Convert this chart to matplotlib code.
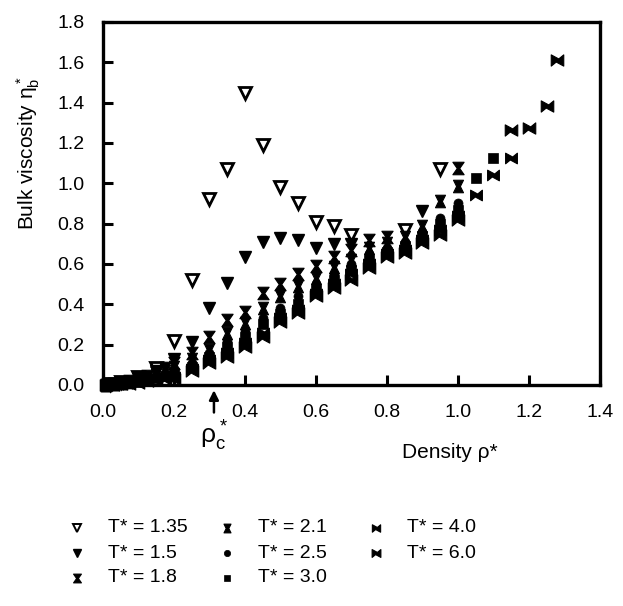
import matplotlib
matplotlib.use("Agg")
import matplotlib.pyplot as plt
from matplotlib.path import Path

plt.rcParams['font.family'] = ['Liberation Sans', 'DejaVu Sans']
plt.rcParams['mathtext.fontset'] = 'custom'
plt.rcParams['mathtext.rm'] = 'Liberation Sans'
plt.rcParams['mathtext.it'] = 'Liberation Sans'

# data: density rho* and bulk viscosity eta_b* per temperature
rho_135 = [0.02, 0.05, 0.1, 0.15, 0.2, 0.25, 0.3, 0.35, 0.4, 0.45, 0.5, 0.55, 0.6, 0.65, 0.7, 0.85, 0.95]
eta_135 = [0.004, 0.015, 0.04, 0.085, 0.22, 0.52, 0.92, 1.07, 1.45, 1.19, 0.98, 0.90, 0.81, 0.79, 0.745, 0.77, 1.07]

rho_15 = [0.02, 0.05, 0.1, 0.15, 0.2, 0.25, 0.3, 0.35, 0.4, 0.45, 0.5, 0.55, 0.6, 0.65, 0.7, 0.9]
eta_15 = [0.004, 0.012, 0.035, 0.07, 0.13, 0.215, 0.38, 0.505, 0.634, 0.711, 0.731, 0.72, 0.678, 0.70, 0.70, 0.864]

rho_18 = [0.01, 0.03, 0.05, 0.075, 0.1, 0.125, 0.15, 0.175, 0.2, 0.25, 0.3, 0.35, 0.4, 0.45, 0.5, 0.55, 0.6, 0.65, 0.7, 0.75, 0.8, 1.0]
eta_18 = [0.002, 0.005, 0.01, 0.018, 0.03, 0.045, 0.06, 0.085, 0.11, 0.16, 0.24, 0.32, 0.364, 0.456, 0.50, 0.55, 0.59, 0.635, 0.67, 0.72, 0.733, 1.075]

rho_21 = [0.01, 0.03, 0.05, 0.075, 0.1, 0.125, 0.15, 0.175, 0.2, 0.25, 0.3, 0.35, 0.4, 0.45, 0.5, 0.55, 0.6, 0.65, 0.7, 0.75, 0.8, 0.85, 0.9, 0.95, 1.0]
eta_21 = [0.002, 0.004, 0.01, 0.016, 0.025, 0.037, 0.05, 0.07, 0.09, 0.13, 0.174, 0.258, 0.307, 0.38, 0.44, 0.49, 0.53, 0.585, 0.62, 0.68, 0.705, 0.736, 0.786, 0.91, 0.985]

rho_25 = [0.01, 0.03, 0.05, 0.075, 0.1, 0.125, 0.15, 0.175, 0.2, 0.25, 0.3, 0.35, 0.4, 0.45, 0.5, 0.55, 0.6, 0.65, 0.7, 0.75, 0.8, 0.85, 0.9, 0.95, 1.0]
eta_25 = [0.001, 0.004, 0.008, 0.013, 0.02, 0.03, 0.04, 0.055, 0.07, 0.11, 0.16, 0.22, 0.27, 0.33, 0.38, 0.44, 0.50, 0.55, 0.60, 0.65, 0.68, 0.71, 0.76, 0.83, 0.90]

rho_30 = [0.01, 0.03, 0.05, 0.075, 0.1, 0.125, 0.15, 0.175, 0.2, 0.25, 0.3, 0.35, 0.4, 0.45, 0.5, 0.55, 0.6, 0.65, 0.7, 0.75, 0.8, 0.85, 0.9, 0.95, 1.0, 1.05, 1.1]
eta_30 = [0.001, 0.003, 0.006, 0.011, 0.017, 0.026, 0.035, 0.047, 0.06, 0.09, 0.14, 0.19, 0.24, 0.30, 0.35, 0.40, 0.47, 0.52, 0.57, 0.62, 0.66, 0.69, 0.74, 0.80, 0.87, 1.027, 1.127]

rho_40 = [0.01, 0.03, 0.05, 0.075, 0.1, 0.125, 0.15, 0.175, 0.2, 0.25, 0.3, 0.35, 0.4, 0.45, 0.5, 0.55, 0.6, 0.65, 0.7, 0.75, 0.8, 0.85, 0.9, 0.95, 1.0, 1.05, 1.1, 1.15]
eta_40 = [0.001, 0.002, 0.005, 0.009, 0.015, 0.022, 0.03, 0.035, 0.04, 0.08, 0.125, 0.16, 0.21, 0.26, 0.33, 0.37, 0.45, 0.50, 0.55, 0.60, 0.65, 0.67, 0.72, 0.77, 0.84, 0.943, 1.042, 1.127]

rho_60 = [0.01, 0.03, 0.05, 0.075, 0.1, 0.125, 0.15, 0.175, 0.2, 0.25, 0.3, 0.35, 0.4, 0.45, 0.5, 0.55, 0.6, 0.65, 0.7, 0.75, 0.8, 0.85, 0.9, 0.95, 1.0, 1.15, 1.2, 1.25, 1.28]
eta_60 = [0.0, 0.002, 0.004, 0.007, 0.012, 0.018, 0.025, 0.028, 0.03, 0.07, 0.11, 0.14, 0.19, 0.24, 0.31, 0.357, 0.44, 0.48, 0.52, 0.58, 0.637, 0.655, 0.705, 0.744, 0.82, 1.265, 1.275, 1.385, 1.61]

labels = ["T* = 1.35", "T* = 1.5", "T* = 1.8", "T* = 2.1", "T* = 2.5", "T* = 3.0", "T* = 4.0", "T* = 6.0"]
rho_c = 0.313

# custom marker shapes
hourglass = Path([(-0.9, 1), (0.9, 1), (0.2, 0), (0.9, -1), (-0.9, -1), (-0.2, 0), (-0.9, 1)],
                 [Path.MOVETO] + [Path.LINETO] * 5 + [Path.CLOSEPOLY])
hourglass2 = Path([(-0.8, 1), (0.8, 1), (0.3, 0), (0.8, -1), (-0.8, -1), (-0.3, 0), (-0.8, 1)],
                  [Path.MOVETO] + [Path.LINETO] * 5 + [Path.CLOSEPOLY])
bowtie = Path([(1, -0.9), (1, 0.9), (0.2, 0.25), (-1, 0.9), (-1, -0.9), (-0.2, -0.25), (1, -0.9)],
              [Path.MOVETO] + [Path.LINETO] * 5 + [Path.CLOSEPOLY])

series = [(rho_135, eta_135), (rho_15, eta_15), (rho_18, eta_18), (rho_21, eta_21),
          (rho_25, eta_25), (rho_30, eta_30), (rho_40, eta_40), (rho_60, eta_60)]
styles = [dict(marker='v', mfc='white', ms=8, mew=2.0),
          dict(marker='v', mfc='black', ms=8.5, mew=1.0),
          dict(marker=hourglass, mfc='black', ms=9, mew=0.8),
          dict(marker=hourglass2, mfc='black', ms=9, mew=0.8),
          dict(marker='o', mfc='black', ms=6.5, mew=0.5),
          dict(marker='s', mfc='black', ms=6.5, mew=0.5),
          dict(marker=bowtie, mfc='black', ms=8.5, mew=0.8),
          dict(marker=bowtie, mfc='black', ms=9, mew=0.8)]

fig = plt.figure(figsize=(6.23, 6.06), dpi=100)
ax = fig.add_axes([0.165, 0.3647, 0.798, 0.599])

for (x, y), st in zip(series, styles):
    ax.plot(x, y, linestyle='none', color='black', mec='black', clip_on=False, **st)

ax.set_xlim(0, 1.4)
ax.set_ylim(0, 1.8)
ax.set_xticks([0.0, 0.2, 0.4, 0.6, 0.8, 1.0, 1.2, 1.4])
ax.set_yticks([0.0, 0.2, 0.4, 0.6, 0.8, 1.0, 1.2, 1.4, 1.6, 1.8])
ax.xaxis.set_major_formatter(plt.FormatStrFormatter('%.1f'))
ax.yaxis.set_major_formatter(plt.FormatStrFormatter('%.1f'))
ax.tick_params(direction='in', length=7, width=2.2, labelsize=14)
ax.tick_params(axis='x', pad=14)
ax.tick_params(axis='y', pad=13)
for s in ax.spines.values():
    s.set_linewidth(2.4)

# critical density arrow
ax.annotate('', xy=(rho_c, -0.012), xytext=(rho_c, -0.15), xycoords='data',
            arrowprops=dict(arrowstyle='-|>', color='black', lw=1.8, mutation_scale=14),
            annotation_clip=False)
ax.text(rho_c, -0.25, r'$\rho_c^*$', ha='center', va='center', fontsize=19)

fig.text(450 / 623, 1 - 452 / 606, 'Density ρ*', ha='center', va='center', fontsize=15)
fig.text(28 / 623, 1 - 153 / 606, r'Bulk viscosity $\eta_b^*$', rotation=90,
         ha='center', va='center', fontsize=15)

# legend laid out in three columns below the plot
leg = fig.add_axes([0, 0, 1, 1], facecolor='none')
leg.set_xlim(0, 623)
leg.set_ylim(606, 0)
leg.axis('off')
col_x = [77, 227, 376]
row_y = [528, 553, 578]
for i, (lab, st) in enumerate(zip(labels, styles)):
    c, r = i // 3, i % 3
    small = dict(st)
    small['ms'] = st['ms'] * 0.7
    small['mew'] = min(st['mew'], 1.4)
    leg.plot([col_x[c]], [row_y[r]], linestyle='none', color='black', mec='black', **small)
    leg.text(col_x[c] + 31, row_y[r], lab, ha='left', va='center', fontsize=14)

fig.savefig("out.png", dpi=100)
